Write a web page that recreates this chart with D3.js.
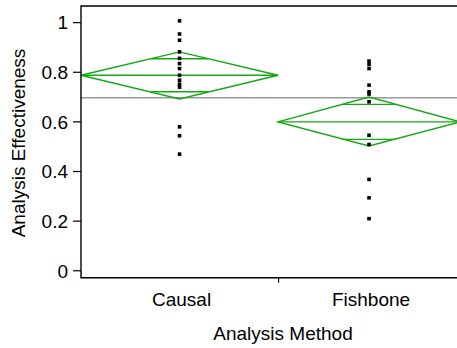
<!DOCTYPE html>
<html>
<head>
<meta charset="utf-8">
<script src="https://cdn.jsdelivr.net/npm/d3@7"></script>
<style>
  body { margin: 0; background: #fff; }
  text { font-family: "Liberation Sans", Arial, sans-serif; fill: #000; }
</style>
</head>
<body>
<svg width="457" height="348"></svg>
<script>
  // data
  const groups = ['Causal', 'Fishbone'];
  const groupWidth = [13, 12]; // share of the x axis each group gets
  const causalValues = [1.005, 0.952, 0.927, 0.88, 0.854, 0.833, 0.813, 0.786, 0.766, 0.75, 0.738, 0.578, 0.542, 0.468];
  const fishboneValues = [0.843, 0.83, 0.813, 0.746, 0.719, 0.71, 0.679, 0.544, 0.507, 0.366, 0.292, 0.208];
  const groupMean = [0.786, 0.598];
  const ciLower = [0.690, 0.501];
  const ciUpper = [0.880, 0.698];
  const grandMean = 0.695;
  const yTicks = [0, 0.2, 0.4, 0.6, 0.8, 1];

  const values = [causalValues, fishboneValues];

  const svg = d3.select('svg');
  const margin = { top: 6, left: 81 };
  const plotRight = 460;
  const plotBottom = 277.7;

  const yScale = d3.scaleLinear()
    .domain([-0.03, 1.065])
    .range([plotBottom, margin.top]);

  const starts = d3.cumsum([0].concat(groupWidth));
  const xScale = d3.scaleLinear()
    .domain([0, d3.sum(groupWidth)])
    .range([margin.left, plotRight]);

  const green = '#14a914';

  // grand mean line
  svg.append('line')
    .attr('x1', margin.left).attr('x2', plotRight)
    .attr('y1', yScale(grandMean)).attr('y2', yScale(grandMean))
    .attr('stroke', '#9a9a9a')
    .attr('stroke-width', 1.5);

  // means diamonds
  groups.forEach((g, i) => {
    const x0 = xScale(starts[i]);
    const x1 = xScale(starts[i + 1]);
    const xc = (x0 + x1) / 2;
    const m = groupMean[i];
    const lo = ciLower[i];
    const hi = ciUpper[i];

    const dg = svg.append('g')
      .attr('fill', 'none')
      .attr('stroke', green)
      .attr('stroke-width', 1.4);

    dg.append('path')
      .attr('d', `M${x0},${yScale(m)}L${xc},${yScale(hi)}L${x1},${yScale(m)}L${xc},${yScale(lo)}Z`);

    dg.append('line')
      .attr('x1', x0).attr('x2', x1)
      .attr('y1', yScale(m)).attr('y2', yScale(m));

    // overlap marks
    const half = (hi - m) / Math.SQRT2;
    [m + half, m - half].forEach(v => {
      const f = 1 - Math.abs(v - m) / (hi - m);
      const w = (x1 - x0) / 2 * f;
      dg.append('line')
        .attr('x1', xc - w).attr('x2', xc + w)
        .attr('y1', yScale(v)).attr('y2', yScale(v));
    });

    // points
    const s = 3.6;
    svg.append('g').selectAll('rect')
      .data(values[i])
      .join('rect')
        .attr('x', xc - s / 2)
        .attr('y', d => yScale(d) - s / 2)
        .attr('width', s)
        .attr('height', s)
        .attr('fill', '#000');
  });

  // y axis
  const yAxis = d3.axisLeft(yScale)
    .tickValues(yTicks)
    .tickFormat(d3.format('~g'))
    .tickSize(8)
    .tickPadding(5);

  const yAxisG = svg.append('g')
    .attr('transform', `translate(${margin.left},0)`)
    .call(yAxis);
  yAxisG.select('.domain').remove();
  yAxisG.selectAll('.tick line').attr('stroke', '#000').attr('stroke-width', 1.2);
  yAxisG.selectAll('.tick text')
    .style('font-size', '19px')
    .attr('font-family', null)
    .attr('dy', '0.36em');

  // x axis
  const xAxis = d3.axisBottom(xScale)
    .tickValues([starts[1]])
    .tickFormat('')
    .tickSize(5);

  const xAxisG = svg.append('g')
    .attr('transform', `translate(0,${plotBottom})`)
    .call(xAxis);
  xAxisG.select('.domain').remove();
  xAxisG.selectAll('.tick line').attr('stroke', '#000').attr('stroke-width', 1.2);

  groups.forEach((g, i) => {
    const xc = (xScale(starts[i]) + xScale(starts[i + 1])) / 2;
    svg.append('text')
      .attr('x', xc + 2)
      .attr('y', 306)
      .attr('text-anchor', 'middle')
      .style('font-size', '19px')
      .text(g);
  });

  // frame
  svg.append('path')
    .attr('d', `M${plotRight},${margin.top}H${margin.left}V${plotBottom}H${plotRight}`)
    .attr('fill', 'none')
    .attr('stroke', '#000')
    .attr('stroke-width', 1.4);

  // axis titles
  svg.append('text')
    .attr('x', 283)
    .attr('y', 340)
    .attr('text-anchor', 'middle')
    .style('font-size', '19px')
    .text('Analysis Method');

  svg.append('text')
    .attr('transform', 'rotate(-90)')
    .attr('x', -143)
    .attr('y', 25)
    .attr('text-anchor', 'middle')
    .style('font-size', '19px')
    .text('Analysis Effectiveness');
</script>
</body>
</html>
